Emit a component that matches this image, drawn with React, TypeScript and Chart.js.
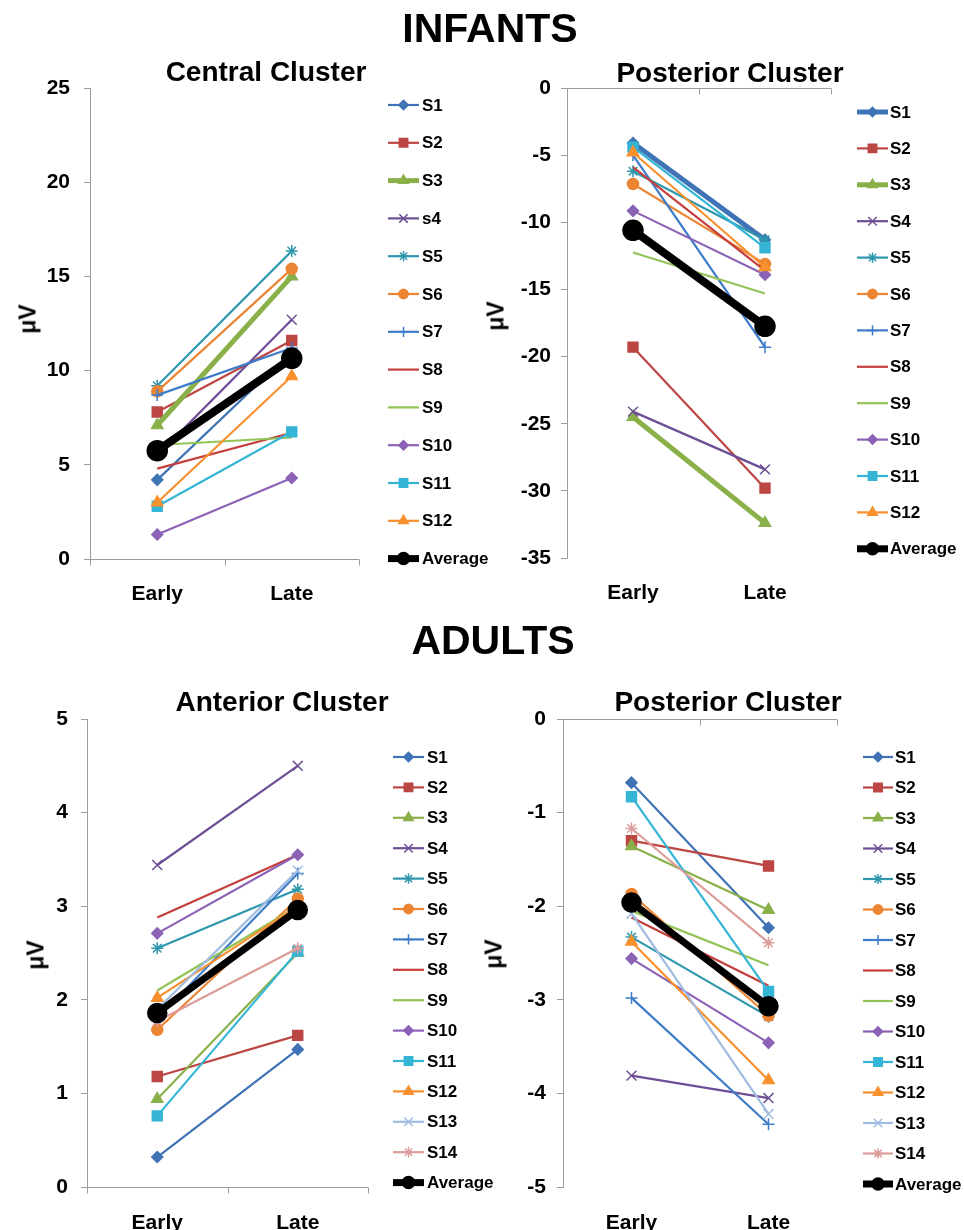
import React, { useEffect, useRef } from 'react';
import { Chart, registerables } from 'chart.js';
import { drawPoint } from 'chart.js/helpers';

Chart.register(...registerables);

const FONT = '"Liberation Sans", Arial, Helvetica, sans-serif';
const AXIS_COLOR = '#9c9c9c';

// ---------- data ----------
const CATEGORIES = ['Early', 'Late'];

const INFANT_CENTRAL_NAMES = ['S1', 'S2', 'S3', 's4', 'S5', 'S6', 'S7', 'S8', 'S9', 'S10', 'S11', 'S12', 'Average'];
const INFANT_CENTRAL_EARLY = [4.2, 7.8, 7.1, 5.5, 9.2, 8.9, 8.7, 4.8, 6.05, 1.3, 2.8, 3.0, 5.75];
const INFANT_CENTRAL_LATE = [11.0, 11.6, 15.0, 12.7, 16.35, 15.4, 11.2, 6.7, 6.45, 4.3, 6.75, 9.7, 10.65];

const INFANT_POSTERIOR_NAMES = ['S1', 'S2', 'S3', 'S4', 'S5', 'S6', 'S7', 'S8', 'S9', 'S10', 'S11', 'S12', 'Average'];
const INFANT_POSTERIOR_EARLY = [-4.1, -19.3, -24.5, -24.1, -6.2, -7.15, -5.0, -5.9, -12.25, -9.15, -4.4, -4.8, -10.6];
const INFANT_POSTERIOR_LATE = [-11.3, -29.8, -32.4, -28.4, -11.3, -13.1, -19.3, -13.6, -15.3, -13.9, -11.9, -13.35, -17.75];

const ADULT_NAMES = ['S1', 'S2', 'S3', 'S4', 'S5', 'S6', 'S7', 'S8', 'S9', 'S10', 'S11', 'S12', 'S13', 'S14', 'Average'];
const ADULT_ANTERIOR_EARLY = [0.32, 1.18, 0.94, 3.44, 2.55, 1.68, 1.8, 2.88, 2.1, 2.71, 0.76, 2.02, 1.9, 1.77, 1.86];
const ADULT_ANTERIOR_LATE = [1.47, 1.62, 2.5, 4.5, 3.18, 3.08, 3.35, 3.55, 3.0, 3.55, 2.52, 3.0, 3.38, 2.55, 2.96];
const ADULT_POSTERIOR_EARLY = [-0.68, -1.3, -1.36, -3.81, -2.33, -1.87, -2.98, -2.12, -2.05, -2.56, -0.83, -2.38, -2.08, -1.17, -1.96];
const ADULT_POSTERIOR_LATE = [-2.23, -1.57, -2.04, -4.05, -3.18, -3.17, -4.33, -2.85, -2.63, -3.46, -2.91, -3.86, -4.22, -2.39, -3.07];

// y-axis ranges: [min, max, step]
const INFANT_CENTRAL_RANGE = [0, 25, 5];
const INFANT_POSTERIOR_RANGE = [-35, 0, 5];
const ADULT_ANTERIOR_RANGE = [0, 5, 1];
const ADULT_POSTERIOR_RANGE = [-5, 0, 1];

// ---------- styles ----------
const SERIES_COLORS = ['#3f73b5', '#bc4643', '#8ab04a', '#6d4f95', '#2e97ad', '#ec8533', '#3d7cc9', '#c43f3c', '#93c256', '#8b62b6', '#35b5d6', '#f8902e', '#9fbbe0', '#dc9c9a'];
const SERIES_MARKERS: (string | null)[] = ['rectRot', 'rect', 'triangle', 'crossRot', 'star', 'circle', 'cross', null, null, 'rectRot', 'rect', 'triangle', 'crossRot', 'star'];
const MARKER_RADIUS: Record<string, number> = { rectRot: 5.5, rect: 7, triangle: 6.5, crossRot: 7, star: 6, circle: 5.5, cross: 6 };

type Spec = {
  left: number; top: number; w: number; h: number;
  names: string[]; early: number[]; late: number[]; range: number[];
  thick: number[]; avgWidth: number; avgRadius: number;
  yW: number; xH: number; padT: number; padR: number; padB: number;
  yPad: number; xPad: number;
  legend: { x1: number; x2: number; xt: number; y0: number; dy: number };
};

function buildDatasets(s: Spec) {
  return s.names.map((name, i) => {
    const isAvg = name === 'Average';
    const color = isAvg ? '#000000' : SERIES_COLORS[i];
    const marker = isAvg ? 'circle' : SERIES_MARKERS[i];
    const width = isAvg ? s.avgWidth : s.thick.includes(i) ? 5 : 2.2;
    const radius = isAvg ? s.avgRadius : marker ? MARKER_RADIUS[marker] : 0;
    return {
      label: name,
      data: [s.early[i], s.late[i]],
      borderColor: color,
      backgroundColor: color,
      borderWidth: width,
      pointStyle: marker || 'circle',
      pointRadius: radius,
      pointHoverRadius: radius,
      pointBorderWidth: 1.5,
      pointBackgroundColor: color,
      pointBorderColor: color,
      order: s.names.length - i,
      tension: 0,
      clip: false,
      legendRadius: isAvg ? 6 : radius * 0.85,
      legendWidth: isAvg ? 7 : width,
    };
  });
}

function makeLegendPlugin(s: Spec) {
  return {
    id: 'customLegend',
    afterDraw(chart: any) {
      const ctx = chart.ctx as CanvasRenderingContext2D;
      const L = s.legend;
      ctx.save();
      chart.data.datasets.forEach((ds: any, i: number) => {
        const y = L.y0 + i * L.dy;
        ctx.strokeStyle = ds.borderColor;
        ctx.lineWidth = ds.legendWidth;
        ctx.lineCap = 'butt';
        ctx.beginPath();
        ctx.moveTo(L.x1, y);
        ctx.lineTo(L.x2, y);
        ctx.stroke();
        if (ds.pointRadius > 0) {
          ctx.fillStyle = ds.borderColor;
          ctx.strokeStyle = ds.borderColor;
          ctx.lineWidth = 1.5;
          drawPoint(ctx, { pointStyle: ds.pointStyle, radius: ds.legendRadius, borderWidth: 1.5, rotation: 0 } as any, (L.x1 + L.x2) / 2, y);
        }
        ctx.fillStyle = '#000';
        ctx.font = `bold 17px ${FONT}`;
        ctx.textAlign = 'left';
        ctx.textBaseline = 'middle';
        ctx.fillText(ds.label, L.xt, y + 1);
      });
      ctx.restore();
    },
  };
}

// horizontal axis drawn where y = 0 (Excel "crosses at 0")
const zeroAxisPlugin = {
  id: 'zeroAxis',
  beforeDatasetsDraw(chart: any) {
    const ctx = chart.ctx as CanvasRenderingContext2D;
    const xs = chart.scales.x;
    const ys = chart.scales.y;
    const y0 = Math.round(ys.getPixelForValue(0)) + 0.5;
    ctx.save();
    ctx.strokeStyle = AXIS_COLOR;
    ctx.lineWidth = 1;
    ctx.beginPath();
    const xl = xs.getPixelForValue(-0.5);
    const xr = xs.getPixelForValue(CATEGORIES.length - 0.5);
    ctx.moveTo(xl, y0);
    ctx.lineTo(xr, y0);
    for (let k = 0; k <= CATEGORIES.length; k++) {
      const px = Math.round(xs.getPixelForValue(k - 0.5)) + 0.5;
      ctx.moveTo(px, y0);
      ctx.lineTo(px, y0 + 6);
    }
    ctx.stroke();
    ctx.restore();
  },
};

function makeConfig(s: Spec): any {
  const tickFont = { family: FONT, size: 21, weight: 'bold' as const };
  return {
    type: 'line',
    data: { labels: CATEGORIES, datasets: buildDatasets(s) },
    plugins: [zeroAxisPlugin, makeLegendPlugin(s)],
    options: {
      responsive: false,
      maintainAspectRatio: false,
      animation: false,
      devicePixelRatio: 1,
      events: [],
      layout: { padding: { left: 0, top: s.padT, right: s.padR, bottom: s.padB } },
      plugins: { legend: { display: false }, title: { display: false }, tooltip: { enabled: false } },
      scales: {
        x: {
          type: 'category',
          offset: true,
          grid: { display: false },
          border: { display: false },
          ticks: { padding: s.xPad, font: tickFont, color: '#000', maxRotation: 0, autoSkip: false },
          afterFit: (sc: any) => { sc.height = s.xH; },
        },
        y: {
          min: s.range[0],
          max: s.range[1],
          ticks: { stepSize: s.range[2], padding: s.yPad, font: tickFont, color: '#000' },
          grid: { display: true, drawOnChartArea: false, drawTicks: true, tickLength: 6, color: AXIS_COLOR },
          border: { display: true, color: AXIS_COLOR, width: 1 },
          afterFit: (sc: any) => { sc.width = s.yW; },
        },
      },
    },
  };
}

const SPECS: Spec[] = [
  {
    left: 0, top: 40, w: 510, h: 580,
    names: INFANT_CENTRAL_NAMES, early: INFANT_CENTRAL_EARLY, late: INFANT_CENTRAL_LATE, range: INFANT_CENTRAL_RANGE,
    thick: [2], avgWidth: 8, avgRadius: 10,
    yW: 90, xH: 45, padT: 48, padR: 151, padB: 16, yPad: 14, xPad: 15,
    legend: { x1: 388, x2: 419, xt: 422, y0: 65, dy: 37.8 },
  },
  {
    left: 480, top: 40, w: 484, h: 580,
    names: INFANT_POSTERIOR_NAMES, early: INFANT_POSTERIOR_EARLY, late: INFANT_POSTERIOR_LATE, range: INFANT_POSTERIOR_RANGE,
    thick: [0, 2], avgWidth: 8, avgRadius: 10,
    yW: 87, xH: 45, padT: 48, padR: 133, padB: 17, yPad: 10, xPad: 15,
    legend: { x1: 377, x2: 408, xt: 410, y0: 72, dy: 36.4 },
  },
  {
    left: 0, top: 620, w: 510, h: 610,
    names: ADULT_NAMES, early: ADULT_ANTERIOR_EARLY, late: ADULT_ANTERIOR_LATE, range: ADULT_ANTERIOR_RANGE,
    thick: [], avgWidth: 7, avgRadius: 9.5,
    yW: 87, xH: 43, padT: 99, padR: 142, padB: 0, yPad: 13, xPad: 16,
    legend: { x1: 393, x2: 424, xt: 427, y0: 137, dy: 30.4 },
  },
  {
    left: 480, top: 620, w: 484, h: 610,
    names: ADULT_NAMES, early: ADULT_POSTERIOR_EARLY, late: ADULT_POSTERIOR_LATE, range: ADULT_POSTERIOR_RANGE,
    thick: [], avgWidth: 7, avgRadius: 9.5,
    yW: 83, xH: 43, padT: 99, padR: 127, padB: 0, yPad: 11, xPad: 16,
    legend: { x1: 383, x2: 413, xt: 415, y0: 137, dy: 30.5 },
  },
];

function PanelChart({ spec }: { spec: Spec }) {
  const ref = useRef<HTMLCanvasElement>(null);
  useEffect(() => {
    const chart = new Chart(ref.current as HTMLCanvasElement, makeConfig(spec));
    return () => chart.destroy();
  }, [spec]);
  return (
    <canvas
      ref={ref}
      width={spec.w}
      height={spec.h}
      style={{ position: 'absolute', left: spec.left, top: spec.top, width: spec.w, height: spec.h }}
    />
  );
}

function Label({ x, y, size, text, rotate }: { x: number; y: number; size: number; text: string; rotate?: boolean }) {
  return (
    <div
      style={{
        position: 'absolute', left: x, top: y,
        transform: rotate ? 'translate(-50%, -50%) rotate(-90deg)' : 'translate(-50%, -50%)',
        fontFamily: FONT, fontWeight: 'bold', fontSize: size, lineHeight: `${size}px`,
        whiteSpace: 'nowrap', color: '#000',
      }}
    >
      {text}
    </div>
  );
}

export default function App() {
  return (
    <div style={{ position: 'absolute', left: 0, top: 0, width: 964, height: 1230, background: '#fff', overflow: 'hidden' }}>
      {SPECS.map((s, i) => <PanelChart key={i} spec={s} />)}
      <Label x={490} y={28} size={41} text="INFANTS" />
      <Label x={493} y={640} size={41} text="ADULTS" />
      <Label x={266} y={72} size={28} text="Central Cluster" />
      <Label x={730} y={73} size={28} text="Posterior Cluster" />
      <Label x={282} y={702} size={28} text="Anterior Cluster" />
      <Label x={728} y={702} size={28} text="Posterior Cluster" />
      <Label x={28} y={319} size={23} text="μV" rotate />
      <Label x={496} y={316} size={23} text="μV" rotate />
      <Label x={36} y={955} size={23} text="μV" rotate />
      <Label x={494} y={954} size={23} text="μV" rotate />
    </div>
  );
}
